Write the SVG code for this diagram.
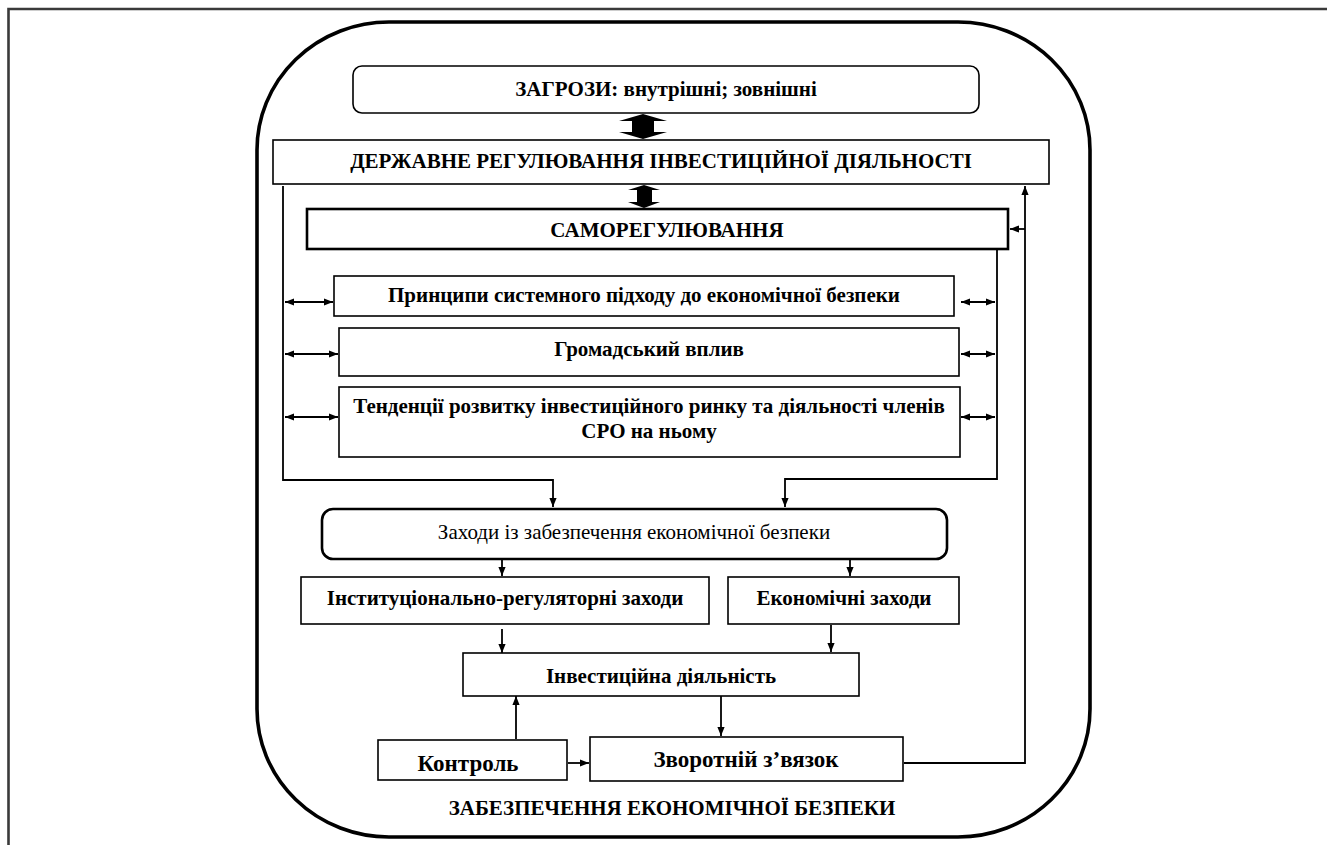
<svg xmlns="http://www.w3.org/2000/svg" width="1327" height="845" viewBox="0 0 1327 845">
<style>
text{font-family:"Liberation Serif","Times New Roman",serif;font-weight:bold;font-size:21px;fill:#000;text-anchor:middle}
.n{font-weight:normal}
.big{font-size:23px}
.box{fill:#fff;stroke:#000;stroke-width:1.6}
.thick{fill:#fff;stroke:#000;stroke-width:2.6}
.ln{fill:none;stroke:#000;stroke-width:1.8}
.blk{fill:#000;stroke:none}
</style>
<defs>
<marker id="ah" viewBox="0 0 10 10" refX="10" refY="5" markerWidth="5.5" markerHeight="5" orient="auto-start-reverse" markerUnits="strokeWidth">
<path d="M0,1 L10,5 L0,9 Z" fill="#000"/>
</marker>
</defs>
<g id="frame">
<path d="M8.5,845 V9 H1327" fill="none" stroke="#3a3a3a" stroke-width="2.6"/>
</g>
<g id="outer">
<rect x="257" y="22" width="833" height="815" rx="132" ry="128" fill="none" stroke="#000" stroke-width="3.6"/>
<text x="672" y="815">ЗАБЕЗПЕЧЕННЯ ЕКОНОМІЧНОЇ БЕЗПЕКИ</text>
</g>
<g id="connectors">
<polygon class="blk" points="643,114 667,121 654,121 654,132 667,132 643,139 619,132 632,132 632,121 619,121"/>
<polygon class="blk" points="644,185 660,190 652,190 652,202 660,202 644,208 628,202 637,202 637,190 628,190"/>
<path class="ln" d="M283,186 V480 H553 V507" marker-end="url(#ah)"/>
<path class="ln" d="M997,250 V479 H785 V507" marker-end="url(#ah)"/>
<path class="ln" d="M285,302 H333" marker-start="url(#ah)" marker-end="url(#ah)"/>
<path class="ln" d="M285,354 H338" marker-start="url(#ah)" marker-end="url(#ah)"/>
<path class="ln" d="M285,417 H338" marker-start="url(#ah)" marker-end="url(#ah)"/>
<path class="ln" d="M961,302 H995" marker-start="url(#ah)" marker-end="url(#ah)"/>
<path class="ln" d="M961,354 H995" marker-start="url(#ah)" marker-end="url(#ah)"/>
<path class="ln" d="M961,417 H995" marker-start="url(#ah)" marker-end="url(#ah)"/>
<path class="ln" d="M502,560 V576" marker-end="url(#ah)"/>
<path class="ln" d="M850,560 V576" marker-end="url(#ah)"/>
<path class="ln" d="M502,629 V653" marker-end="url(#ah)"/>
<path class="ln" d="M831,625 V652" marker-end="url(#ah)"/>
<path class="ln" d="M516,739 V696" marker-end="url(#ah)"/>
<path class="ln" d="M721,696 V736" marker-end="url(#ah)"/>
<path class="ln" d="M568,763 H589" marker-end="url(#ah)"/>
<path class="ln" d="M904,763 H1025 V186" marker-end="url(#ah)"/>
<path class="ln" d="M1025,229 H1010" marker-end="url(#ah)"/>
</g>
<g id="threats">
<rect class="box" x="353" y="66" width="626" height="47" rx="9" stroke-width="2"/>
<text x="666" y="96">ЗАГРОЗИ: внутрішні; зовнішні</text>
</g>
<g id="state">
<rect class="box" x="273" y="140" width="776" height="44" stroke-width="2.4"/>
<text x="661" y="168">ДЕРЖАВНЕ РЕГУЛЮВАННЯ ІНВЕСТИЦІЙНОЇ ДІЯЛЬНОСТІ</text>
</g>
<g id="selfreg">
<rect class="thick" x="307" y="209" width="701" height="40"/>
<text x="667" y="237">САМОРЕГУЛЮВАННЯ</text>
</g>
<g id="principles">
<rect class="box" x="334" y="276" width="620" height="40"/>
<text x="644" y="302">Принципи системного підходу до економічної безпеки</text>
</g>
<g id="public">
<rect class="box" x="339" y="328" width="620" height="48"/>
<text x="649" y="356">Громадський вплив</text>
</g>
<g id="trends">
<rect class="box" x="339" y="387" width="621" height="70"/>
<text x="649" y="413">Тенденції розвитку інвестиційного ринку та діяльності членів</text>
<text x="649" y="438">СРО на ньому</text>
</g>
<g id="measures">
<rect class="thick" x="322" y="509" width="625" height="50" rx="11"/>
<text class="n" x="634" y="539">Заходи із забезпечення економічної безпеки</text>
</g>
<g id="institutional">
<rect class="box" x="301" y="577" width="408" height="47"/>
<text x="505" y="605">Інституціонально-регуляторні заходи</text>
</g>
<g id="economic">
<rect class="box" x="728" y="577" width="231" height="47"/>
<text x="844" y="605">Економічні заходи</text>
</g>
<g id="investment">
<rect class="box" x="463" y="653" width="396" height="43"/>
<text x="661" y="683">Інвестиційна діяльність</text>
</g>
<g id="control">
<rect class="box" x="378" y="740" width="189" height="40"/>
<text class="big" x="468" y="771">Контроль</text>
</g>
<g id="feedback">
<rect class="box" x="590" y="737" width="313" height="44"/>
<text class="big" x="746" y="767">Зворотній з’вязок</text>
</g>
</svg>
